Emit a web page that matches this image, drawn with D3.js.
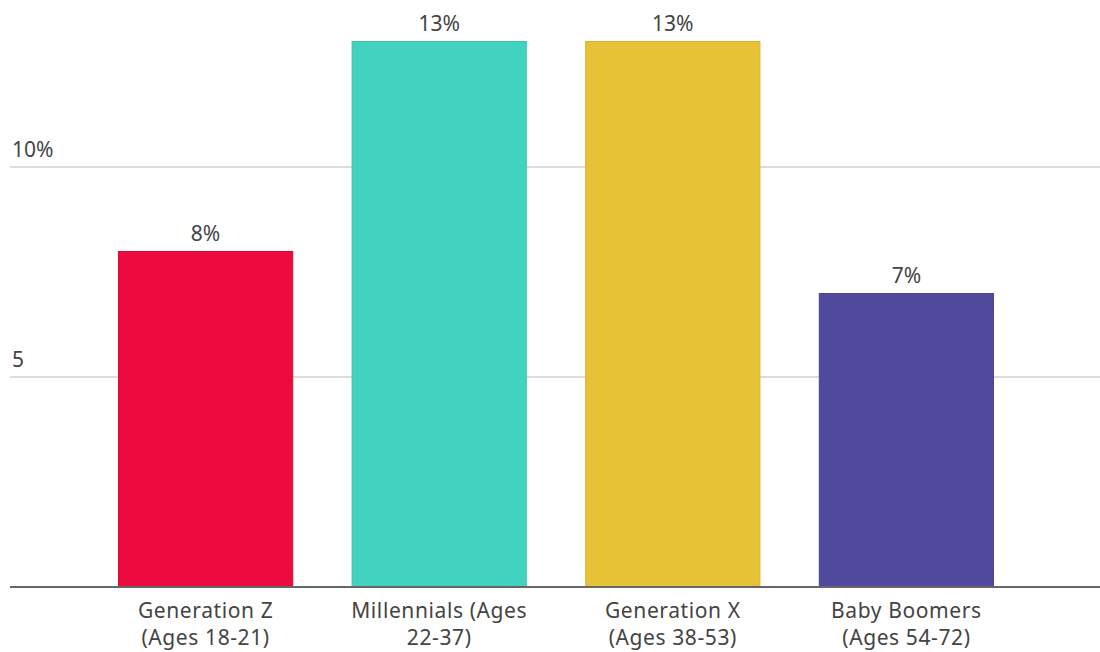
<!DOCTYPE html>
<html>
<head>
<meta charset="utf-8">
<script src="https://cdn.jsdelivr.net/npm/d3@7"></script>
<style>
  body { margin: 0; background: #fff; }
  text { font-family: "Noto Sans", "Open Sans", sans-serif; fill: #444; }
</style>
</head>
<body>
<svg width="1100" height="652"></svg>
<script>
var categories = [["Generation Z", "(Ages 18-21)"], ["Millennials (Ages", "22-37)"], ["Generation X", "(Ages 38-53)"], ["Baby Boomers", "(Ages 54-72)"]];
var values = [8, 13, 13, 7];
var labels = ["8%", "13%", "13%", "7%"];
var colors = ["#ec0a3f", "#41d3bf", "#e8c236", "#524a9c"];
var strokes = ["#d8093a", "#3bc2af", "#d6b230", "#4a4390"];
var ticks = [5, 10];
var tickLabels = ["5", "10%"];

var svg = d3.select("svg");

var xScale = d3.scaleBand().domain(d3.range(categories.length)).range([118, 994]).paddingInner(0.25).paddingOuter(0);
var yScale = d3.scaleLinear().domain([0, 13]).range([587, 41]);

// gridlines
svg.selectAll(".grid")
   .data(ticks)
   .enter().append("line")
   .attr("x1", 10)
   .attr("x2", 1100)
   .attr("y1", function(d) { return yScale(d); })
   .attr("y2", function(d) { return yScale(d); })
   .attr("stroke", "#dcdcdc")
   .attr("stroke-width", 2);

svg.selectAll(".tick-label")
   .data(ticks)
   .enter().append("text")
   .attr("x", 12)
   .attr("y", function(d) { return yScale(d) - 10; })
   .style("font-size", "21px")
   .text(function(d, i) { return tickLabels[i]; });

// bars
svg.selectAll(".bar")
   .data(values)
   .enter().append("rect")
   .attr("x", function(d, i) { return xScale(i) + 0.5; })
   .attr("y", function(d) { return yScale(d) + 0.5; })
   .attr("width", xScale.bandwidth() - 1)
   .attr("height", function(d) { return yScale(0) - yScale(d) - 0.5; })
   .attr("fill", function(d, i) { return colors[i]; })
   .attr("stroke", function(d, i) { return strokes[i]; })
   .attr("stroke-width", 1);

// value labels
svg.selectAll(".val")
   .data(values)
   .enter().append("text")
   .attr("x", function(d, i) { return xScale(i) + xScale.bandwidth() / 2; })
   .attr("y", function(d) { return yScale(d) - 10; })
   .attr("text-anchor", "middle")
   .style("font-size", "21px")
   .text(function(d, i) { return labels[i]; });

// baseline
svg.append("line")
   .attr("x1", 10)
   .attr("x2", 1100)
   .attr("y1", yScale(0))
   .attr("y2", yScale(0))
   .attr("stroke", "#666")
   .attr("stroke-width", 2);

// category labels
var cat = svg.selectAll(".cat")
   .data(categories)
   .enter().append("text")
   .attr("text-anchor", "middle")
   .style("font-size", "21px")
   .style("letter-spacing", "0.6px");

cat.selectAll("tspan")
   .data(function(d, i) { return d.map(function(t) { return { t: t, i: i }; }); })
   .enter().append("tspan")
   .attr("x", function(d) { return xScale(d.i) + xScale.bandwidth() / 2; })
   .attr("y", function(d, j) { return 618 + j * 27; })
   .text(function(d) { return d.t; });
</script>
</body>
</html>
